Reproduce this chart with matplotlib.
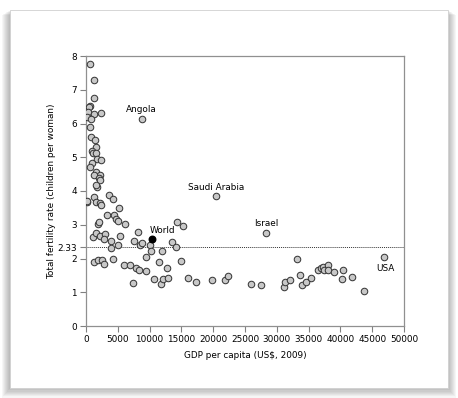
import numpy as np
import matplotlib
matplotlib.use("Agg")
import matplotlib.pyplot as plt
from matplotlib.patches import Rectangle

# GDP per capita (US$, 2009) and total fertility rate
gdp = [630, 1210, 1310, 630, 450, 315, 1210, 2360, 210, 740, 630, 740, 1470, 1520,
       890, 1100, 1580, 1680, 2310, 890, 630, 1630, 2150, 1310, 2000, 2250, 1680,
       1260, 3620, 4200, 210, 1520, 2200, 2360, 5250, 3360, 4410, 4670, 5090, 6190,
       1840, 2000, 14320, 15220, 8180, 1100, 1520, 2200, 2940, 2880, 3980, 5400,
       4990, 3880, 7510, 8500, 8810, 10120, 10230, 11910, 13490, 14120, 9440, 4300,
       1210, 1840, 2570, 2780, 5930, 6880, 7820, 8390, 9440, 11490, 12750, 14900,
       7400, 10750, 11800, 12170, 12910, 16100, 17310, 19790, 21930, 22300, 25920,
       27590, 33160, 31060, 31270, 32000, 33680, 34000, 34630, 35370, 36410, 36940,
       37300, 37420, 38040, 38090, 39040, 40400, 40190, 41820, 43650, 1570, 110]
tfr = [7.76, 7.29, 6.77, 6.52, 6.48, 6.35, 6.28, 6.32, 6.2, 6.13, 5.89, 5.61, 5.5, 5.31,
       5.2, 5.14, 5.14, 4.94, 4.91, 4.82, 4.72, 4.57, 4.47, 4.47, 4.4, 4.33, 4.13,
       3.81, 3.88, 3.77, 3.68, 3.68, 3.63, 3.6, 3.49, 3.29, 3.29, 3.17, 3.12, 3.01,
       3.01, 3.07, 3.09, 2.96, 2.78, 2.65, 2.75, 2.68, 2.73, 2.58, 2.52, 2.68,
       2.4, 2.31, 2.52, 2.4, 2.47, 2.4, 2.22, 2.22, 2.48, 2.35, 2.05, 1.99,
       1.9, 1.96, 1.95, 1.84, 1.8, 1.8, 1.73, 1.66, 1.62, 1.89, 1.72, 1.93,
       1.26, 1.39, 1.25, 1.39, 1.41, 1.41, 1.3, 1.35, 1.35, 1.49, 1.24,
       1.21, 1.99, 1.15, 1.31, 1.37, 1.52, 1.21, 1.31, 1.41, 1.67, 1.73,
       1.75, 1.66, 1.8, 1.67, 1.59, 1.67, 1.39, 1.46, 1.04, 4.18, 3.7]

# labelled countries
named = ["Angola", "Saudi Arabia", "Israel", "USA"]
named_gdp = [8770, 20460, 28280, 46860]
named_tfr = [6.13, 3.84, 2.76, 2.05]

world_gdp = 10390
world_tfr = 2.58
replacement = 2.33

W, H = 458, 398
fig = plt.figure(figsize=(W / 100, H / 100), dpi=100)
fig.patch.set_facecolor("white")

# framed panel with a soft shadow (left, right and bottom)
for k in range(8, 0, -1):
    fig.patches.append(Rectangle(((10 - k) / W, (10 - k * 1.2) / H), (438 + 2 * k) / W, (378 + k * 0.6) / H,
                                 transform=fig.transFigure, facecolor="black",
                                 edgecolor="none", alpha=0.035, zorder=-2))
fig.patches.append(Rectangle((10 / W, 10 / H), 438 / W, 378 / H,
                             transform=fig.transFigure, facecolor="white",
                             edgecolor="#d0d0d0", linewidth=0.6, zorder=-1))

ax = fig.add_axes([86 / W, 72 / H, 318 / W, 270 / H])
ax.set_zorder(2)
ax.set_facecolor("white")

ax.axhline(replacement, color="#333333", linestyle=(0, (1, 1)), linewidth=0.7, zorder=1)

pt_style = dict(s=22, facecolor="#c8c8c8", edgecolor="#3a3a3a", linewidths=0.75, zorder=3)
ax.scatter(gdp, tfr, **pt_style)
ax.scatter(named_gdp, named_tfr, **pt_style)
ax.scatter([world_gdp], [world_tfr], s=22, facecolor="black", edgecolor="black", zorder=4)

fs = 6.4
for name, x, y in zip(named, named_gdp, named_tfr):
    if name == "USA":
        ax.annotate(name, (x, y), xytext=(1, -5), textcoords="offset points",
                    ha="center", va="top", fontsize=fs)
    else:
        ax.annotate(name, (x, y), xytext=(0, 3.5), textcoords="offset points",
                    ha="center", va="bottom", fontsize=fs)
ax.annotate("World", (world_gdp, world_tfr), xytext=(-2, 2.5), textcoords="offset points",
            ha="left", va="bottom", fontsize=fs)

ax.set_xlim(0, 50000)
ax.set_ylim(0, 8)
ax.set_xticks(np.arange(0, 50001, 5000))
ax.set_yticks([0, 1, 2, replacement, 3, 4, 5, 6, 7, 8])
ax.set_yticklabels(["0", "1", "2", "2.33", "3", "4", "5", "6", "7", "8"])
ax.tick_params(direction="out", length=4, width=0.8, color="#808080",
               labelsize=fs, pad=2.5, top=False, right=False)

for sp in ax.spines.values():
    sp.set_color("#909090")
    sp.set_linewidth(0.9)

ax.set_xlabel("GDP per capita (US$, 2009)", fontsize=fs, labelpad=5)
ax.set_ylabel("Total fertility rate (children per woman)", fontsize=fs, labelpad=1)

fig.savefig("out.png", dpi=100, facecolor=fig.get_facecolor())
